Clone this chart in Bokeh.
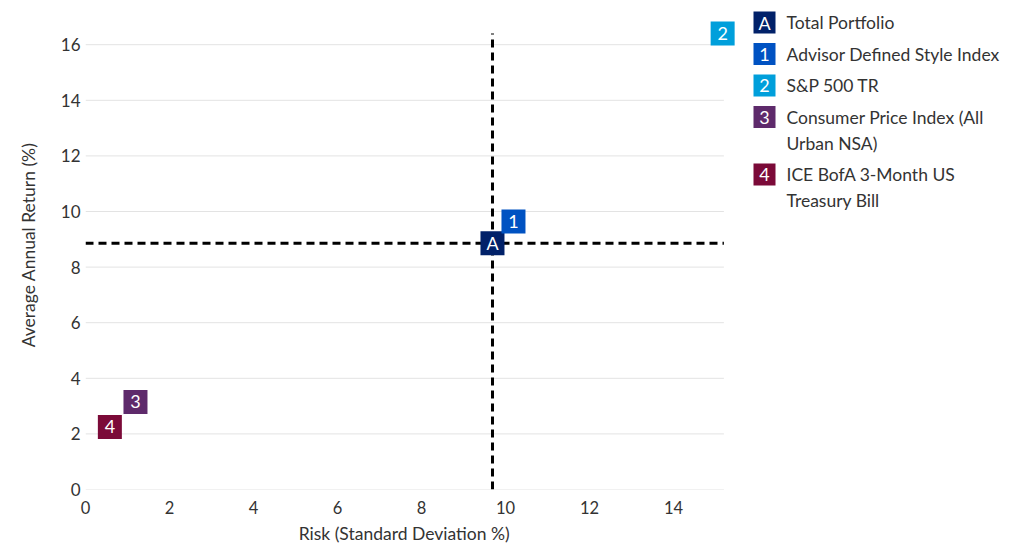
from bokeh.plotting import figure
from bokeh.models import Range1d, ColumnDataSource, FixedTicker, Title
from bokeh.core.properties import value
from bokeh.embed import file_html
from bokeh.resources import INLINE

codes = ["A", "1", "2", "3", "4"]
names = ["Total Portfolio", "Advisor Defined Style Index", "S&P 500 TR",
         "Consumer Price Index (All\nUrban NSA)", "ICE BofA 3-Month US\nTreasury Bill"]
risk = [9.69, 10.19, 15.17, 1.19, 0.58]
ret = [8.86, 9.64, 16.40, 3.15, 2.25]
colors = ["#012169", "#0052C2", "#009FDB", "#5E2A6B", "#7B0A38"]
x_ticks = [0, 2, 4, 6, 8, 10, 12, 14]
y_ticks = [0, 2, 4, 6, 8, 10, 12, 14, 16]
x_axis_max = 15.2
y_axis_max = 16.4
x_title = "Risk (Standard Deviation %)"
y_title = "Average Annual Return (%)"

FONT = "Lato"
TXT = "#333333"

# layout (pixels)
W, H = 1012, 548
LEFT, BOTTOM = 85, 59
XS, YS = 42.0, 27.8          # pixels per data unit
frame_w, frame_h = W - LEFT, H - BOTTOM
X_TITLE_HALF_W = 106         # approx. half width of the x title text


def dx(px):  # canvas x pixel -> data x
    return (px - LEFT) / XS


def dy(py):  # canvas y pixel (from top) -> data y
    return (frame_h - py) / YS


src = ColumnDataSource(dict(x=risk, y=ret, code=codes, color=colors))

p = figure(width=W, height=H, x_range=Range1d(0, frame_w / XS), y_range=Range1d(0, frame_h / YS),
           output_backend="svg", toolbar_location=None,
           min_border_left=LEFT, min_border_right=0, min_border_top=0, min_border_bottom=BOTTOM)
p.outline_line_color = None
p.xgrid.grid_line_color = None
p.ygrid.grid_line_color = None
p.xaxis.ticker = FixedTicker(ticks=x_ticks)
p.yaxis.ticker = FixedTicker(ticks=y_ticks)
for ax in (p.xaxis[0], p.yaxis[0]):
    ax.axis_line_color = None
    ax.major_tick_line_color = None
    ax.minor_tick_line_color = None
    ax.major_tick_out = 0
    ax.major_tick_in = 0
    ax.minor_tick_out = 0
    ax.minor_tick_in = 0
    ax.major_label_text_font = FONT
    ax.major_label_text_color = TXT
    ax.axis_label_text_font = FONT
    ax.axis_label_text_color = TXT
    ax.axis_label_text_font_style = "normal"
    ax.axis_label_text_font_size = "17.5px"
p.xaxis.major_label_text_font_size = "16.5px"
p.yaxis.major_label_text_font_size = "17px"
p.yaxis.axis_label = y_title
p.xaxis.major_label_standoff = 11
p.yaxis.major_label_standoff = 5
p.yaxis.axis_label_standoff = 19

# x-axis title centred under the axis extent (not the whole frame)
xt = Title(text=x_title, align="left", offset=(x_axis_max / 2) * XS - X_TITLE_HALF_W,
           text_font=FONT, text_font_size="17.5px", text_font_style="normal",
           text_color=TXT, standoff=9)
p.add_layout(xt, "below")

# horizontal grid lines limited to the axis extent
p.segment(x0=[0] * len(y_ticks), x1=[x_axis_max] * len(y_ticks), y0=y_ticks, y1=y_ticks,
          line_color="#e3e3e3", line_width=1)

# dashed cross-hair through the total portfolio
p.segment(x0=[risk[0], 0], y0=[0, ret[0]], x1=[risk[0], x_axis_max], y1=[y_axis_max, ret[0]],
          line_color="black", line_width=3, line_dash="8 5")

p.scatter("x", "y", source=src, marker="square", size=24, fill_color="color",
          line_color=None)
p.text("x", "y", text="code", source=src, text_color="white", text_align="center",
       text_baseline="middle", text_font=value(FONT), text_font_size="18px")

# legend (positioned in pixels, converted to data units)
row_px = []
lines_txt, lines_px = [], []
yy = 22
for n in names:
    row_px.append(yy)
    parts = n.split("\n")
    for k, part in enumerate(parts):
        lines_txt.append(part)
        lines_px.append(yy + 26 * k)
    yy += 26 * (len(parts) - 1) + 31.5

sq_x = dx(764)
p.scatter(x=[sq_x] * len(codes), y=[dy(v) for v in row_px], marker="square", size=22,
          fill_color=colors, line_color=None)
p.text(x=[sq_x] * len(codes), y=[dy(v) for v in row_px], text=codes, text_color="white",
       text_align="center", text_baseline="middle", text_font=value(FONT),
       text_font_size="18px")
p.text(x=[dx(786)] * len(lines_txt), y=[dy(v) for v in lines_px], text=lines_txt,
       text_color=TXT, text_align="left", text_baseline="middle", text_font=value(FONT),
       text_font_size="17.5px")

open("out.html", "w").write(file_html(p, INLINE))
